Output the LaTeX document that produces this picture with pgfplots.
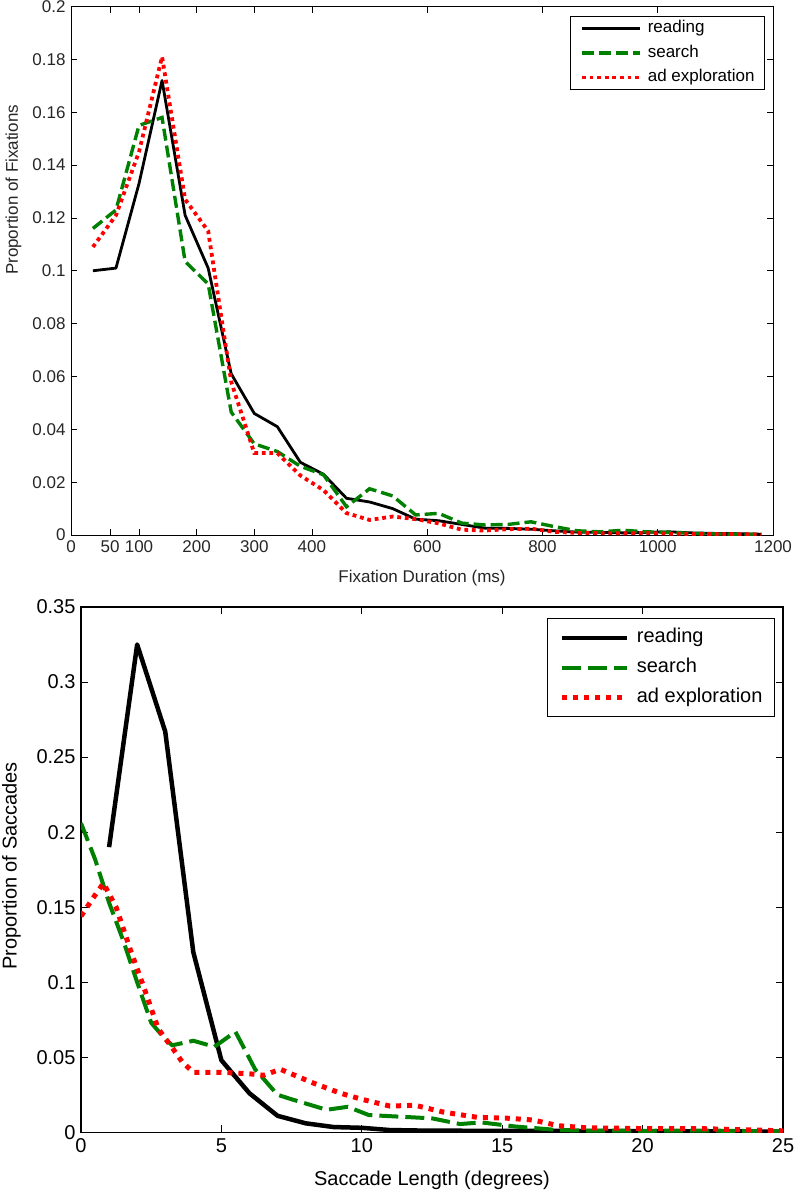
\documentclass[border=0pt]{standalone}
\usepackage{fontspec}
\setmainfont{Liberation Sans}
\usepackage{pgfplots}
\usepackage{pgfplotstable}
\pgfplotsset{compat=1.18}
\definecolor{mgreen}{RGB}{0,128,0}
\definecolor{mred}{RGB}{255,0,0}

\pgfplotstableread{
x reading search ad
20 0.100 0.116 0.109
60 0.101 0.123 0.121
100 0.133 0.155 0.145
140 0.172 0.158 0.181
180 0.121 0.1035 0.127
220 0.101 0.095 0.115
260 0.061 0.0465 0.058
300 0.046 0.0345 0.031
340 0.041 0.0316 0.031
380 0.0275 0.026 0.0225
420 0.023 0.0228 0.017
460 0.0139 0.0107 0.0083
500 0.0125 0.0175 0.0057
540 0.0100 0.0148 0.0070
580 0.0060 0.0076 0.0060
620 0.0054 0.0082 0.0044
660 0.0040 0.0045 0.0020
700 0.0026 0.0038 0.0017
740 0.0025 0.0040 0.0022
780 0.0022 0.0050 0.0024
820 0.0016 0.0032 0.0012
860 0.0011 0.0016 0.0008
900 0.0010 0.0012 0.0007
940 0.0008 0.0018 0.0006
980 0.0010 0.0012 0.0008
1020 0.0012 0.0010 0.0005
1060 0.0008 0.0006 0.0004
1100 0.0006 0.0004 0.0004
1140 0.0005 0.0003 0.0003
1180 0.0003 0.0002 0.0002
}\fixtable

\pgfplotstableread{
x y
1 0.190
2 0.325
3 0.267
4 0.120
5 0.048
6 0.026
7 0.011
8 0.006
9 0.0035
10 0.003
11 0.0015
12 0.0012
13 0.0011
14 0.0010
15 0.0010
16 0.0009
17 0.0009
18 0.0008
19 0.0008
20 0.0007
21 0.0007
22 0.0006
23 0.0006
24 0.0005
25 0.0005
}\sacread

\pgfplotstableread{
x y
0 0.206
0.5 0.182
1 0.153
1.5 0.128
2 0.100
2.5 0.073
3 0.062
3.25 0.058
4 0.061
4.75 0.057
5.5 0.067
6.2 0.042
7 0.025
7.5 0.022
8.75 0.015
9.5 0.017
10.25 0.0115
12.5 0.0093
13.5 0.0055
14.25 0.0066
15.5 0.0038
17 0.0015
18 0.0012
20 0.0010
22 0.0012
24 0.0008
25 0.0005
}\sacsearch

\pgfplotstableread{
x y
0 0.144
0.5 0.158
0.8 0.166
1.25 0.150
1.75 0.122
2.25 0.096
2.75 0.069
3.3 0.055
3.6 0.047
4 0.040
5 0.040
6 0.039
6.5 0.038
7.1 0.042
8.25 0.033
9.25 0.026
10 0.022
11 0.0175
11.9 0.018
12.9 0.0135
14.1 0.010
15.1 0.0095
16.1 0.0082
17 0.0044
18 0.0030
20 0.0025
22 0.0025
24 0.0015
25 0.0010
}\sacad

\begin{document}
\begin{tikzpicture}
\useasboundingbox (0,0) rectangle (793pt,-1192pt);
% ---------------- top ----------------
\begin{axis}[
  scale only axis, width=702pt, height=528.5pt,
  at={(71pt,-535pt)}, anchor=south west,
  xmin=-18, xmax=1200, ymin=0, ymax=0.2,
  xtick={-18,50,100,200,300,400,600,800,1000,1200},
  xticklabels={0,50,100,200,300,400,600,800,1000,1200},
  ytick={0,0.02,0.04,0.06,0.08,0.1,0.12,0.14,0.16,0.18,0.2},
  yticklabels={0,0.02,0.04,0.06,0.08,0.1,0.12,0.14,0.16,0.18,0.2},
  tick align=inside, major tick length=6pt,
  every tick/.style={black, line width=0.8pt},
  axis line style={line width=0.9pt},
  /pgf/number format/assume math mode=true,
  tick label style={font=\fontsize{17}{20}\selectfont, text=black!85},
  xticklabel style={yshift=-2pt},
  yticklabel style={xshift=-2pt},
  xlabel={Fixation Duration (ms)},
  ylabel={Proportion of Fixations},
  label style={font=\fontsize{17}{20}\selectfont, text=black!85},
  xlabel style={at={(axis description cs:0.5,0)}, anchor=center, yshift=-43pt},
  ylabel style={at={(axis description cs:-0.082,0.653)}, anchor=center},
  legend cell align=left,
  legend style={at={(0.9886,0.9826)}, anchor=north east, draw=black, line width=0.8pt,
    inner xsep=10pt, inner ysep=3.8pt, row sep=7.5pt,
    font=\fontsize{17}{20}\selectfont,
    nodes={inner sep=0pt, text height=13pt, text depth=4pt},
    /tikz/every odd column/.append style={column sep=6pt}},
  legend image code/.code={\draw[#1] (0pt,0pt) -- (58pt,0pt);},
]
\addplot[black, line width=2.8pt, line join=round] table[x=x,y=reading] {\fixtable};
\addlegendentry{reading}
\addplot[mgreen, line width=3.4pt, dash pattern=on 12pt off 5pt] table[x=x,y=search] {\fixtable};
\addlegendentry{search}
\addplot[mred, line width=3.8pt, dash pattern=on 3.8pt off 3.8pt] table[x=x,y=ad] {\fixtable};
\addlegendentry{ad exploration}
\end{axis}
% ---------------- bottom ----------------
\begin{axis}[
  scale only axis, width=702pt, height=525.3pt,
  at={(81pt,-1132.3pt)}, anchor=south west,
  xmin=0, xmax=25, ymin=0, ymax=0.35,
  xtick={0,5,10,15,20,25},
  xticklabels={0,5,10,15,20,25},
  ytick={0,0.05,0.1,0.15,0.2,0.25,0.3,0.35},
  yticklabels={0,0.05,0.1,0.15,0.2,0.25,0.3,0.35},
  tick align=inside, major tick length=7pt,
  every tick/.style={black, line width=1.1pt},
  axis line style={line width=1.2pt},
  /pgf/number format/assume math mode=true,
  tick label style={font=\fontsize{20}{24}\selectfont},
  xticklabel style={yshift=-3pt},
  yticklabel style={xshift=-2pt},
  xlabel={Saccade Length (degrees)},
  ylabel={Proportion of Saccades},
  label style={font=\fontsize{20}{24}\selectfont},
  xlabel style={at={(axis description cs:0.5,0)}, anchor=center, yshift=-48pt},
  ylabel style={at={(axis description cs:-0.099,0.507)}, anchor=center},
  legend cell align=left,
  legend style={at={(0.9886,0.9785)}, anchor=north east, draw=black, line width=1pt,
    inner xsep=12pt, inner ysep=9.5pt, row sep=11pt,
    font=\fontsize{20}{24}\selectfont,
    nodes={inner sep=0pt, text height=14pt, text depth=5pt},
    /tikz/every odd column/.append style={column sep=7pt}},
  legend image code/.code={\draw[#1] (0pt,0pt) -- (65pt,0pt);},
]
\addplot[black, line width=4.5pt, line join=round] table[x=x,y=y] {\sacread};
\addlegendentry{reading}
\addplot[mgreen, line width=4pt, dash pattern=on 19pt off 7pt] table[x=x,y=y] {\sacsearch};
\addlegendentry{search}
\addplot[mred, line width=5pt, dash pattern=on 5pt off 6pt] table[x=x,y=y] {\sacad};
\addlegendentry{ad exploration}
\end{axis}
\end{tikzpicture}
\end{document}
